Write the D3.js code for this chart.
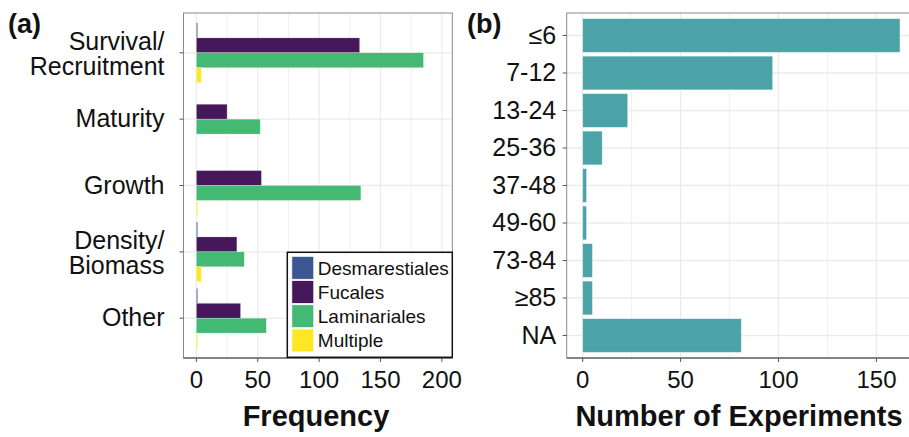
<!DOCTYPE html>
<html>
<head>
<meta charset="utf-8">
<script src="https://cdn.jsdelivr.net/npm/d3@7"></script>
<style>
  body { margin: 0; background: #fff; }
  svg { display: block; font-family: "Liberation Sans", Arial, sans-serif; }
</style>
</head>
<body>
<div id="chart"></div>
<script>
(function(){

    // panel (a) data
    const responses = ["Survival/Recruitment", "Maturity", "Growth", "Density/Biomass", "Other"];
    const orders = ["Desmarestiales", "Fucales", "Laminariales", "Multiple"];
    const desmarestiales = [1, 0, 0, 1, 1];
    const fucales = [133, 25, 53, 33, 36];
    const laminariales = [185, 52, 134, 39, 57];
    const multiple = [4, 0, 1, 4, 1];
    const freqTicks = [0, 50, 100, 150, 200];

    // panel (b) data
    const durations = ["\u22646", "7-12", "13-24", "25-36", "37-48", "49-60", "73-84", "\u226585", "NA"];
    const experiments = [162, 97, 23, 10, 2, 2, 5, 5, 81];
    const expTicks = [0, 50, 100, 150];

    const orderColors = ["#3B5690", "#46185A", "#44B974", "#FDE725"];
    const tealColor = "#4CA3A7";

    const width = 909, height = 437;
    const svg = d3.select("#chart").append("svg")
        .attr("width", width)
        .attr("height", height);

    const gridColor = "#ebebeb";
    const borderColor = "#8a8a8a";

    // grid lines behind the bars
    function drawPanel(opts) {
        const g = svg.append("g");
        const x = opts.x, y = opts.y;
        const [x0, x1] = x.range();
        const [y0, y1] = [opts.top, opts.bottom];

        const minor = [];
        for (let i = 0; i < opts.ticks.length; i++) {
            const t = opts.ticks[i] + (opts.ticks[1] - opts.ticks[0]) / 2;
            if (x(t) < x1) minor.push(t);
        }
        g.selectAll(".minor").data(minor).enter().append("line")
            .attr("x1", d => x(d)).attr("x2", d => x(d))
            .attr("y1", y0).attr("y2", y1)
            .attr("stroke", gridColor).attr("stroke-width", 0.8);
        g.selectAll(".major").data(opts.ticks).enter().append("line")
            .attr("x1", d => x(d)).attr("x2", d => x(d))
            .attr("y1", y0).attr("y2", y1)
            .attr("stroke", gridColor).attr("stroke-width", 1.3);
        g.selectAll(".hmajor").data(y.domain()).enter().append("line")
            .attr("x1", x0).attr("x2", x1)
            .attr("y1", d => y(d)).attr("y2", d => y(d))
            .attr("stroke", gridColor).attr("stroke-width", 1.3);
        return g;
    }

    // border, ticks, labels, titles
    function drawFrame(opts) {
        const x = opts.x, y = opts.y;
        const [x0, x1] = x.range();
        const g = svg.append("g");
        g.append("rect")
            .attr("x", x0).attr("y", opts.top)
            .attr("width", x1 - x0).attr("height", opts.bottom - opts.top)
            .attr("fill", "none").attr("stroke", borderColor).attr("stroke-width", 1);
        g.append("line")
            .attr("x1", x0).attr("x2", x1)
            .attr("y1", opts.bottom).attr("y2", opts.bottom)
            .attr("stroke", "#444").attr("stroke-width", 1.2);

        const xt = g.selectAll(".xt").data(opts.ticks).enter().append("g")
            .attr("transform", d => `translate(${x(d)},${opts.bottom})`);
        xt.append("line").attr("y1", 0).attr("y2", 4).attr("stroke", "#555").attr("stroke-width", 1);
        xt.append("text").attr("y", 30).attr("text-anchor", "middle")
            .attr("font-size", 24).attr("fill", "#111").text(d => d);

        const yt = g.selectAll(".yt").data(y.domain()).enter().append("g")
            .attr("transform", d => `translate(${x0},${y(d)})`);
        yt.append("line").attr("x1", -4).attr("x2", 0).attr("stroke", "#555").attr("stroke-width", 1);
        yt.each(function(d) {
            const lines = d.split("/");
            const t = d3.select(this).append("text")
                .attr("text-anchor", "end")
                .attr("font-size", 25).attr("fill", "#111");
            if (lines.length === 1) {
                t.append("tspan").attr("x", opts.labelX).attr("y", 8).text(d);
            } else {
                t.append("tspan").attr("x", opts.labelX).attr("y", -3).text(lines[0] + "/");
                t.append("tspan").attr("x", opts.labelX).attr("y", 22).text(lines[1]);
            }
        });

        svg.append("text")
            .attr("x", opts.titleX).attr("y", 426)
            .attr("text-anchor", "middle")
            .attr("font-size", 29).attr("font-weight", "bold").attr("fill", "#111")
            .text(opts.title);

        svg.append("text")
            .attr("x", opts.tagX).attr("y", 33)
            .attr("font-size", 27).attr("font-weight", "bold").attr("fill", "#111")
            .text(opts.tag);
    }

    // ---------- panel (a) ----------
    const topY = 13, bottomY = 358;
    const xA = d3.scaleLinear().domain([-10.5, 208.5]).range([183.5, 452.3]);
    const yA = d3.scalePoint().domain(responses).range([topY, bottomY]).padding(0.6);
    const dodge = d3.scaleBand().domain(orders)
        .range([-0.45 * yA.step(), 0.45 * yA.step()]);

    const optsA = { x: xA, y: yA, top: topY, bottom: bottomY, ticks: freqTicks,
        labelX: -19, title: "Frequency", titleX: 316, tag: "(a)", tagX: 8 };
    drawPanel(optsA);

    const seriesA = [desmarestiales, fucales, laminariales, multiple];
    const barsA = [];
    orders.forEach((o, si) => {
        responses.forEach((r, ci) => {
            barsA.push({ order: o, response: r, value: seriesA[si][ci], color: orderColors[si] });
        });
    });
    svg.append("g").selectAll("rect").data(barsA.filter(d => d.value > 0)).enter().append("rect")
        .attr("x", xA(0))
        .attr("y", d => yA(d.response) + dodge(d.order))
        .attr("width", d => Math.max(1, xA(d.value) - xA(0)))
        .attr("height", dodge.bandwidth())
        .attr("fill", d => d.color)
        .attr("stroke", "#fff").attr("stroke-opacity", 0.5).attr("stroke-width", 0.5);

    drawFrame(optsA);

    // legend
    const legX = 287.3, legY = 252.3, legW = 165, legH = 105;
    const leg = svg.append("g");
    leg.append("rect")
        .attr("x", legX).attr("y", legY).attr("width", legW).attr("height", legH)
        .attr("fill", "#fff").attr("stroke", "#111").attr("stroke-width", 1.5);
    const legItems = leg.selectAll(".li").data(orders).enter().append("g")
        .attr("transform", (d, i) => `translate(${legX + 4.5},${legY + 4 + i * 24.2})`);
    legItems.append("rect")
        .attr("width", 22).attr("height", 23)
        .attr("fill", (d, i) => orderColors[i])
        .attr("stroke", "#fff").attr("stroke-width", 0.8);
    legItems.append("text")
        .attr("x", 26).attr("y", 18.5)
        .attr("font-size", 19).attr("fill", "#111")
        .text(d => d);

    // ---------- panel (b) ----------
    const xB = d3.scaleLinear().domain([-8.15, 171.2]).range([566.7, 918]);
    const yB = d3.scalePoint().domain(durations).range([topY, bottomY]).padding(0.6);

    const optsB = { x: xB, y: yB, top: topY, bottom: bottomY, ticks: expTicks,
        labelX: -10.5, title: "Number of Experiments", titleX: 739, tag: "(b)", tagX: 467 };
    drawPanel(optsB);

    svg.append("g").selectAll("rect").data(durations).enter().append("rect")
        .attr("x", xB(0))
        .attr("y", d => yB(d) - 0.45 * yB.step())
        .attr("width", (d, i) => xB(experiments[i]) - xB(0))
        .attr("height", 0.9 * yB.step())
        .attr("fill", tealColor)
        .attr("stroke", "#fff").attr("stroke-opacity", 0.5).attr("stroke-width", 0.8);

    drawFrame(optsB);

})();
</script>
</body>
</html>
